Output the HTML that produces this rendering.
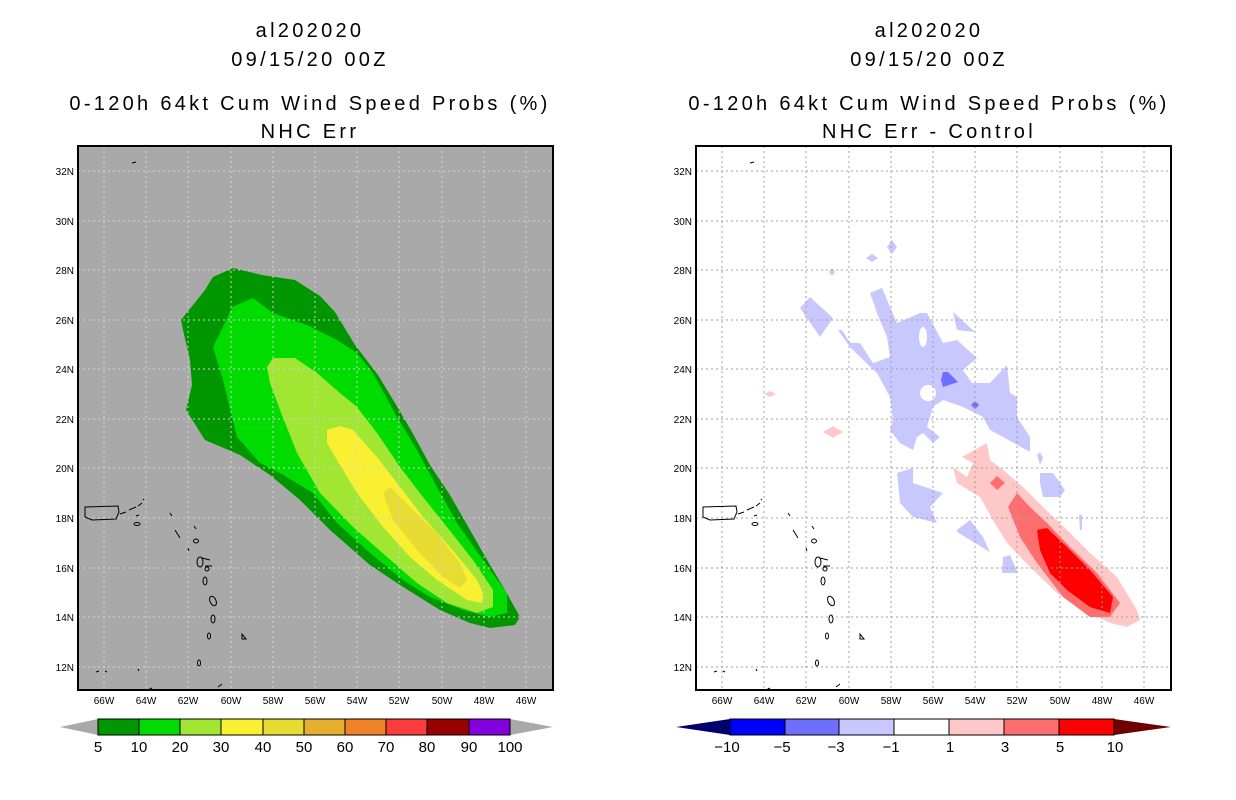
<!DOCTYPE html>
<html><head><meta charset="utf-8"><style>
html,body{margin:0;padding:0;background:#fff;}
svg{display:block;}
text{font-family:"Liberation Sans",sans-serif;fill:#000;}
.t{font-size:20px;text-anchor:middle;letter-spacing:3.3px;}
.ax{font-size:10px;}
.cb{font-size:15px;text-anchor:middle;}
</style></head><body>
<svg width="1236" height="800" viewBox="0 0 1236 800" xmlns="http://www.w3.org/2000/svg">
<defs>
<g id="grid">
<path d="M104 146V690M146 146V690M188 146V690M231 146V690M273 146V690M315 146V690M357 146V690M399 146V690M442 146V690M484 146V690M526 146V690M78 171H553M78 221H553M78 270H553M78 320H553M78 369H553M78 419H553M78 468H553M78 518H553M78 568H553M78 617H553M78 667H553" stroke-dasharray="2,3" stroke-width="1" fill="none"/>
</g>
<g id="coast" fill="none" stroke="#000" stroke-width="1">
<path d="M85 507 L118 506 L119 512 L116 519 L92 520 L85 517 Z"/>
<path d="M120 514 L126 512 M129 510 L136 507 M138 506 L142 503 M143 500 L144 499 M136 516 L139 515 M132 163 L136 162"/>
<ellipse cx="137" cy="524" rx="3" ry="1.5"/>
<path d="M170 513 L172 516 M175 530 L180 538 M188 548 L189 551 M194 526 L196 529"/>
<ellipse cx="196" cy="541" rx="2.5" ry="2"/>
<ellipse cx="200" cy="562" rx="3" ry="5"/>
<path d="M202 558 L210 560 M205 566 L212 566"/>
<ellipse cx="207" cy="569" rx="2" ry="2"/>
<ellipse cx="205" cy="581" rx="2" ry="4"/>
<ellipse cx="213" cy="601" rx="3" ry="5" transform="rotate(-25 213 601)"/>
<ellipse cx="213" cy="619" rx="2" ry="4"/>
<ellipse cx="209" cy="636" rx="1.5" ry="3"/>
<ellipse cx="199" cy="663" rx="1.5" ry="3"/>
<path d="M242 634 L246 639 L242 639 Z"/>
<path d="M96 672 L99 671 M105 671 L107 672 M138 669 L139 671 M148 690 L152 688 M218 687 L222 684"/>
</g>
</defs>

<!-- titles -->
<text class="t" x="310" y="37">al202020</text>
<text class="t" x="310" y="66">09/15/20 00Z</text>
<text class="t" x="310" y="110">0-120h 64kt Cum Wind Speed Probs (%)</text>
<text class="t" x="310" y="138">NHC Err</text>
<text class="t" x="929" y="37">al202020</text>
<text class="t" x="929" y="66">09/15/20 00Z</text>
<text class="t" x="929" y="110">0-120h 64kt Cum Wind Speed Probs (%)</text>
<text class="t" x="929" y="138">NHC Err - Control</text>

<!-- LEFT PANEL -->
<rect x="78" y="146" width="475" height="544" fill="#a9a9a9"/>
<polygon fill="#009600" points="181,320 205,290 213,277 233,268 262,275 295,280 320,296 335,312 355,345 378,375 398,408 412,432 430,465 450,495 470,530 490,565 505,590 520,617 515,625 490,628 470,623 440,610 400,585 370,565 330,530 300,500 270,475 240,455 205,440 186,410 192,385 190,360 183,330"/>
<polygon fill="#00dc00" points="232,307 253,298 273,313 307,325 337,340 357,353 373,373 397,417 417,450 437,487 457,523 483,560 507,593 507,613 490,617 463,610 430,597 403,580 370,553 337,523 313,493 280,473 260,463 237,437 223,380 213,347 223,327"/>
<polygon fill="#a0e632" points="267,367 273,358 295,358 317,373 340,393 357,407 377,433 400,467 423,497 447,527 473,560 493,590 493,607 477,613 447,603 417,583 387,557 353,527 320,493 297,453 280,410 270,383"/>
<polygon fill="#faf032" points="327,430 340,426 353,430 377,457 400,487 423,517 450,547 477,580 483,593 482,603 467,600 437,580 410,557 383,527 357,493 337,460 327,443"/>
<polygon fill="#e6dc32" points="383,493 390,487 410,507 437,533 460,563 467,580 460,588 443,577 417,550 393,520"/>
<use href="#grid" stroke="#d2d2d2"/>
<use href="#coast"/>
<rect x="78" y="146" width="475" height="544" fill="none" stroke="#000" stroke-width="2"/>

<!-- RIGHT PANEL -->
<rect x="696" y="146" width="475" height="544" fill="#fff"/>
<g fill="#c8c8ff">
<polygon points="870,293 882,288 890,307 897,323 920,313 927,313 943,343 957,340 977,358 963,370 972,383 990,383 1007,365 1010,393 1017,397 1017,417 1030,437 1030,452 1003,437 990,430 983,417 963,407 943,400 933,407 927,427 940,437 933,443 923,433 917,437 913,450 900,443 890,430 893,420 890,397 877,373 860,357 850,347 838,330 842,330 850,343 860,343 873,363 890,357 887,337 877,313"/>
<polygon points="810,297 833,318 820,337 800,308"/>
<polygon points="953,312 975,332 957,330"/>
<polygon points="897,473 913,468 913,483 943,493 930,507 937,523 913,517 900,503"/>
<polygon points="957,530 970,520 983,537 990,552 957,532"/>
<polygon points="1003,557 1010,555 1018,573 1002,573"/>
<polygon points="1040,473 1053,473 1065,490 1060,497 1043,497 1040,483"/>
<polygon points="892,240 897,247 892,254 887,247"/>
<polygon points="866,258 872,254 878,258 872,262"/>
<polygon points="829,272 832,268 835,272 832,276"/>
<polygon points="1037,455 1040,452 1043,458 1040,465"/>
<polygon points="1079,515 1082,515 1082,530 1080,530"/>
</g>
<g fill="#fff"><ellipse cx="923" cy="337" rx="4" ry="10"/><ellipse cx="928" cy="393" rx="8" ry="8"/></g>
<g fill="#6e6eff">
<polygon points="943,372 948,372 958,382 943,387 941,380"/>
<polygon points="975,401 979,405 975,409 971,405"/>
</g>
<polygon fill="#ffc8c8" points="962,457 987,443 990,460 1003,470 1023,487 1043,507 1067,530 1090,553 1117,577 1137,610 1140,620 1127,627 1110,623 1083,610 1057,593 1030,567 1007,543 993,520 980,497 957,483 953,467 967,477 973,463"/>
<polygon fill="#ffc8c8" points="823,432 833,426 843,432 833,438"/>
<polygon fill="#ffc8c8" points="764,394 770,391 776,394 770,397"/>
<polygon fill="#ff6e6e" points="1017,493 1030,507 1047,523 1070,547 1097,573 1120,603 1110,617 1090,617 1063,597 1037,563 1020,537 1008,507"/>
<polygon fill="#ff6e6e" points="997,476 1005,483 997,490 990,483"/>
<polygon fill="#ff0000" points="1037,530 1047,528 1067,547 1090,570 1113,597 1110,613 1090,607 1067,590 1050,573 1040,550"/>
<g transform="translate(618,0)"><use href="#grid" stroke="#a0a0a0"/><use href="#coast"/></g>
<rect x="696" y="146" width="475" height="544" fill="none" stroke="#000" stroke-width="2"/>

<!-- axis ticks & labels -->
<g class="ax">
<g text-anchor="end">
<text x="74" y="175">32N</text><text x="74" y="225">30N</text><text x="74" y="274">28N</text><text x="74" y="324">26N</text><text x="74" y="373">24N</text><text x="74" y="423">22N</text><text x="74" y="472">20N</text><text x="74" y="522">18N</text><text x="74" y="572">16N</text><text x="74" y="621">14N</text><text x="74" y="671">12N</text>
<text x="692" y="175">32N</text><text x="692" y="225">30N</text><text x="692" y="274">28N</text><text x="692" y="324">26N</text><text x="692" y="373">24N</text><text x="692" y="423">22N</text><text x="692" y="472">20N</text><text x="692" y="522">18N</text><text x="692" y="572">16N</text><text x="692" y="621">14N</text><text x="692" y="671">12N</text>
</g>
<g text-anchor="middle">
<text x="104" y="704">66W</text><text x="146" y="704">64W</text><text x="188" y="704">62W</text><text x="231" y="704">60W</text><text x="273" y="704">58W</text><text x="315" y="704">56W</text><text x="357" y="704">54W</text><text x="399" y="704">52W</text><text x="442" y="704">50W</text><text x="484" y="704">48W</text><text x="526" y="704">46W</text>
<text x="722" y="704">66W</text><text x="764" y="704">64W</text><text x="806" y="704">62W</text><text x="849" y="704">60W</text><text x="891" y="704">58W</text><text x="933" y="704">56W</text><text x="975" y="704">54W</text><text x="1017" y="704">52W</text><text x="1060" y="704">50W</text><text x="1102" y="704">48W</text><text x="1144" y="704">46W</text>
</g>
</g>

<!-- LEFT colorbar -->
<polygon points="60,727 98,719 98,735" fill="#a9a9a9"/>
<polygon points="553,727 510,719 510,735" fill="#a9a9a9"/>
<g stroke="#000" stroke-width="1">
<rect x="98" y="719" width="41" height="16" fill="#009600"/>
<rect x="139" y="719" width="41" height="16" fill="#00dc00"/>
<rect x="180" y="719" width="41" height="16" fill="#a0e632"/>
<rect x="221" y="719" width="42" height="16" fill="#faf032"/>
<rect x="263" y="719" width="41" height="16" fill="#e6dc32"/>
<rect x="304" y="719" width="41" height="16" fill="#e6af2d"/>
<rect x="345" y="719" width="41" height="16" fill="#f08228"/>
<rect x="386" y="719" width="41" height="16" fill="#fa3c3c"/>
<rect x="427" y="719" width="42" height="16" fill="#960000"/>
<rect x="469" y="719" width="41" height="16" fill="#8200dc"/>
</g>
<g class="cb">
<text x="98" y="752">5</text><text x="139" y="752">10</text><text x="180" y="752">20</text><text x="221" y="752">30</text><text x="263" y="752">40</text><text x="304" y="752">50</text><text x="345" y="752">60</text><text x="386" y="752">70</text><text x="427" y="752">80</text><text x="469" y="752">90</text><text x="510" y="752">100</text>
</g>

<!-- RIGHT colorbar -->
<polygon points="676,727 730,719 730,735" fill="#00006e"/>
<polygon points="1171,727 1114,719 1114,735" fill="#6e0000"/>
<g stroke="#000" stroke-width="1">
<rect x="730" y="719" width="55" height="16" fill="#0000ff"/>
<rect x="785" y="719" width="54" height="16" fill="#6e6eff"/>
<rect x="839" y="719" width="55" height="16" fill="#c8c8ff"/>
<rect x="894" y="719" width="55" height="16" fill="#ffffff"/>
<rect x="949" y="719" width="55" height="16" fill="#ffc8c8"/>
<rect x="1004" y="719" width="55" height="16" fill="#ff6e6e"/>
<rect x="1059" y="719" width="55" height="16" fill="#ff0000"/>
</g>
<g class="cb">
<text x="727" y="752">−10</text><text x="782" y="752">−5</text><text x="836" y="752">−3</text><text x="891" y="752">−1</text><text x="950" y="752">1</text><text x="1005" y="752">3</text><text x="1060" y="752">5</text><text x="1115" y="752">10</text>
</g>
</svg>
</body></html>
